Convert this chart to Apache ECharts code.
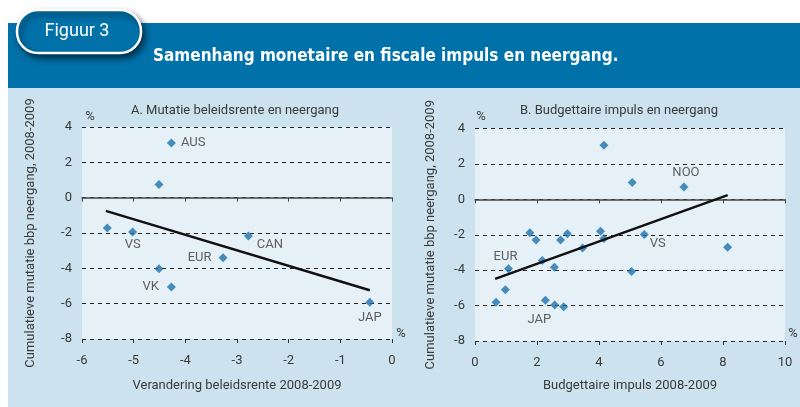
<!DOCTYPE html>
<html>
<head>
<meta charset="utf-8">
<script src="https://cdn.jsdelivr.net/npm/echarts@6/dist/echarts.min.js"></script>
<style>
  html, body { margin: 0; padding: 0; background: #fff; }
  #main { width: 800px; height: 407px; }
</style>
</head>
<body>
<div id="main"></div>
<script>
// --- data ---
// A. policy rate change vs downturn
var rateX = [-4.27, -4.51, -5.51, -5.02, -2.78, -3.27, -4.51, -4.27, -0.43];
var rateY = [3.1, 0.75, -1.72, -1.94, -2.17, -3.4, -4.02, -5.05, -5.92];
var rateNames = ['AUS', '', '', 'VS', 'CAN', 'EUR', '', 'VK', 'JAP'];
var rateTrendX = [-5.54, -0.43];
var rateTrendY = [-0.75, -5.24];

// B. fiscal impulse vs downturn
var fiscX = [4.16, 5.07, 6.74, 1.77, 1.97, 2.76, 2.98, 4.05, 4.16, 5.46, 3.47, 8.15, 1.08, 2.17, 2.56, 5.05, 0.98, 0.68, 2.27, 2.57, 2.86];
var fiscY = [3.05, 0.95, 0.69, -1.88, -2.3, -2.3, -1.95, -1.8, -2.21, -1.99, -2.75, -2.7, -3.92, -3.45, -3.84, -4.08, -5.1, -5.81, -5.7, -5.96, -6.07];
var fiscNames = ['', '', 'NOO', '', '', '', '', '', '', 'VS', '', '', 'EUR', '', '', '', '', '', 'JAP', '', ''];
var fiscTrendX = [0.65, 8.15];
var fiscTrendY = [-4.49, 0.24];

var yTicks = [-8, 4, 2];   // min, max, interval
var rateTicks = [-6, 0, 1];
var fiscTicks = [0, 10, 2];

// label placement per country (style only)
var labelPos = {
    AUS: { position: 'right', distance: 5 },
    VS: { position: 'bottom', distance: 2 },
    CAN: { position: 'right', distance: 4, offset: [0, 9] },
    EUR: { position: 'left', distance: 7 },
    VK: { position: 'left', distance: 8 },
    JAP: { position: 'bottom', distance: 4 }
};
var labelPosB = {
    NOO: { position: 'top', distance: 3, offset: [2, 0] },
    VS: { position: 'right', distance: 1, offset: [0, 9] },
    EUR: { position: 'top', distance: 1, offset: [-3, 0] },
    JAP: { position: 'bottom', distance: 8, offset: [-6, 0] }
};

var txt = '#3a3a3a';
var font = 'Roboto, "Liberation Sans", sans-serif';
var dot = '#1D72AB';

function points(xs, ys, names, pos) {
    return xs.map(function (x, i) {
        var d = { value: [x, ys[i]] };
        if (names[i]) {
            var p = pos[names[i]];
            d.label = {
                show: true,
                formatter: names[i],
                position: p.position,
                distance: p.distance,
                offset: p.offset || [0, 0],
                color: txt,
                fontSize: 13,
                fontFamily: font
            };
        }
        return d;
    });
}

function pairs(xs, ys) {
    return xs.map(function (x, i) { return [x, ys[i]]; });
}

function xAxes(gridIndex, ticks, name, gap) {
    return [{
        gridIndex: gridIndex,
        type: 'value',
        min: ticks[0], max: ticks[1], interval: ticks[2],
        position: 'bottom',
        name: name,
        nameLocation: 'middle',
        nameGap: gap,
        nameTextStyle: { color: txt, fontSize: 13, fontFamily: font },
        axisLine: { show: false, onZero: false },
        axisTick: { show: true, length: 4, lineStyle: { color: '#333' } },
        axisLabel: { color: txt, fontSize: 13, fontFamily: font, margin: 15 },
        splitLine: { show: false }
    }, {
        // solid zero line with ticks
        gridIndex: gridIndex,
        type: 'value',
        min: ticks[0], max: ticks[1], interval: ticks[2],
        position: 'top',
        axisLine: { show: true, onZero: true, lineStyle: { color: '#444', width: 1.5 } },
        axisTick: { show: true, inside: true, length: 4, lineStyle: { color: '#444' } },
        axisLabel: { show: false },
        splitLine: { show: false }
    }];
}

function yAxis(gridIndex, gap) {
    return {
        gridIndex: gridIndex,
        type: 'value',
        min: yTicks[0], max: yTicks[1], interval: yTicks[2],
        name: 'Cumulatieve mutatie bbp neergang, 2008-2009',
        nameLocation: 'middle',
        nameGap: gap,
        nameTextStyle: { color: txt, fontSize: 13, fontFamily: font },
        axisLine: { show: false, onZero: false },
        axisTick: { show: false },
        axisLabel: { color: txt, fontSize: 13, fontFamily: font, margin: 10 },
        splitLine: { show: true, lineStyle: { color: '#222', type: [4, 4], width: 1 } }
    };
}

function label(x, y, s, align) {
    return {
        type: 'text', x: x, y: y,
        style: { text: s, fill: txt, fontSize: 13, fontFamily: font, align: align || 'center', verticalAlign: 'middle' }
    };
}

var chart = echarts.init(document.getElementById('main'));
var option = {
    animation: false,
    graphic: [
        { type: 'rect', z: -10, shape: { x: 8, y: 88, width: 792, height: 319 }, style: { fill: '#CCE2EE' } },
        { type: 'rect', z: -10, shape: { x: 8, y: 23, width: 792, height: 65 }, style: { fill: '#0071A9' } },
        {
            type: 'rect', z: 5,
            shape: { x: 17, y: 10, width: 124, height: 43, r: 21 },
            style: {
                fill: '#0071A9', stroke: '#fff', lineWidth: 2.5,
                shadowBlur: 6, shadowColor: 'rgba(0,0,0,0.55)', shadowOffsetX: 3, shadowOffsetY: 4
            }
        },
        {
            type: 'text', z: 6, x: 77, y: 31,
            style: { text: 'Figuur 3', fill: '#fff', fontSize: 18, fontFamily: font, align: 'center', verticalAlign: 'middle' }
        },
        {
            type: 'text', z: 6, x: 153, y: 57,
            style: {
                text: 'Samenhang monetaire en fiscale impuls en neergang.',
                fill: '#fff', fontSize: 17, fontWeight: 'bold', verticalAlign: 'middle',
                fontFamily: '"DejaVu Sans Condensed", "Liberation Sans Narrow", Roboto, sans-serif'
            }
        },
        label(235, 111, 'A. Mutatie beleidsrente en neergang'),
        label(619, 111, 'B. Budgettaire impuls en neergang'),
        label(90, 117, '%'),
        label(481, 117, '%'),
        label(401, 334, '%'),
        label(793, 334, '%')
    ],
    grid: [
        { left: 82, right: 408, top: 127, bottom: 68, show: true, backgroundColor: '#E5F0F7', borderWidth: 0 },
        { left: 475, right: 15, top: 128.5, bottom: 66, show: true, backgroundColor: '#E5F0F7', borderWidth: 0 }
    ],
    xAxis: xAxes(0, rateTicks, 'Verandering beleidsrente 2008-2009', 40)
        .concat(xAxes(1, fiscTicks, 'Budgettaire impuls 2008-2009', 38)),
    yAxis: [yAxis(0, 45), yAxis(1, 38)],
    series: [{
        type: 'scatter',
        xAxisIndex: 0, yAxisIndex: 0,
        symbol: 'diamond', symbolSize: 9,
        itemStyle: { color: dot },
        data: points(rateX, rateY, rateNames, labelPos)
    }, {
        type: 'line',
        xAxisIndex: 0, yAxisIndex: 0,
        showSymbol: false,
        lineStyle: { color: '#111', width: 2.5 },
        data: pairs(rateTrendX, rateTrendY)
    }, {
        type: 'scatter',
        xAxisIndex: 2, yAxisIndex: 1,
        symbol: 'diamond', symbolSize: 9,
        itemStyle: { color: dot },
        data: points(fiscX, fiscY, fiscNames, labelPosB)
    }, {
        type: 'line',
        xAxisIndex: 2, yAxisIndex: 1,
        showSymbol: false,
        lineStyle: { color: '#111', width: 2.5 },
        data: pairs(fiscTrendX, fiscTrendY)
    }]
};
chart.setOption(option);
</script>
</body>
</html>
